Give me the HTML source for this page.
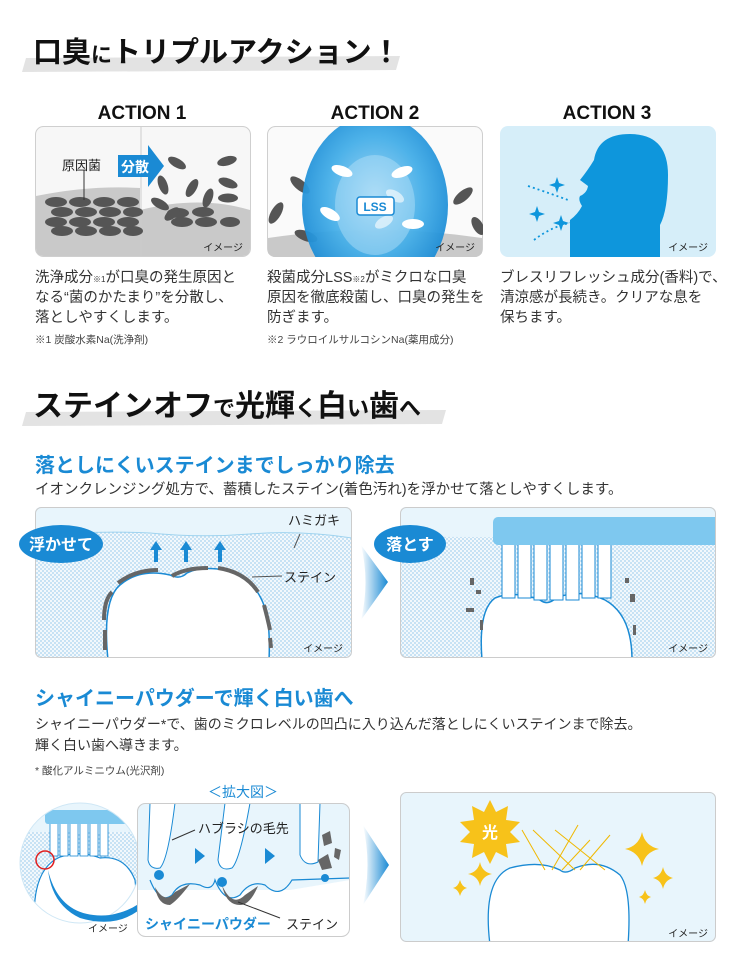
<!DOCTYPE html>
<html><head><meta charset="utf-8"><style>
html,body{margin:0;padding:0;background:#fff;}
svg{display:block;}
text{font-family:"Liberation Sans","Noto Sans CJK JP",sans-serif;}
</style></head><body>
<svg width="750" height="970" viewBox="0 0 750 970" xmlns="http://www.w3.org/2000/svg">
<defs>
<pattern id="dots" width="4" height="4" patternUnits="userSpaceOnUse">
<rect width="4" height="4" fill="#f2f8fc"/><circle cx="1" cy="1" r="0.9" fill="#a9d3ee"/><circle cx="3" cy="3" r="0.9" fill="#a9d3ee"/>
</pattern>
<linearGradient id="arr" x1="0" x2="1"><stop offset="0" stop-color="#fff"/><stop offset="1" stop-color="#1a8ad4"/></linearGradient>
<radialGradient id="sph" cx="0.5" cy="0.45" r="0.55"><stop offset="0" stop-color="#9fd6f5"/><stop offset="0.6" stop-color="#44aee8"/><stop offset="1" stop-color="#1a8ad4"/></radialGradient>
</defs>

<!-- Title 1 -->
<path d="M26 58 L400 56 L396 70 L22 72 Z" fill="#e3e3e3"/>
<text x="33" y="62" font-size="29" font-weight="bold" fill="#111">口臭<tspan font-size="21">に</tspan>トリプルアクション！</text>

<text x="142" y="119" font-size="19" font-weight="bold" text-anchor="middle" fill="#111">ACTION 1</text>
<text x="375" y="119" font-size="19" font-weight="bold" text-anchor="middle" fill="#111">ACTION 2</text>
<text x="607" y="119" font-size="19" font-weight="bold" text-anchor="middle" fill="#111">ACTION 3</text>

<!-- Panel 1 -->
<rect x="35.5" y="126.5" width="215" height="130" rx="8" fill="#f7f7f7" stroke="#cfcfcf"/>
<path d="M36 196 Q90 185 140 188 L140 256 L44 256 Q36 256 36 248 Z" fill="#c9c9c9"/>
<path d="M140 210 Q200 195 250 210 L250 248 Q250 256 242 256 L140 256 Z" fill="#c9c9c9"/>
<line x1="141" y1="127" x2="141" y2="256" stroke="#ccc"/>
<g fill="#555">
<ellipse cx="56" cy="202" rx="11" ry="5"/><ellipse cx="80" cy="202" rx="11" ry="5"/><ellipse cx="104" cy="202" rx="11" ry="5"/><ellipse cx="128" cy="202" rx="11" ry="5"/>
<ellipse cx="62" cy="212" rx="11" ry="5"/><ellipse cx="86" cy="212" rx="11" ry="5"/><ellipse cx="110" cy="212" rx="11" ry="5"/><ellipse cx="133" cy="212" rx="10" ry="5"/>
<ellipse cx="56" cy="222" rx="11" ry="5"/><ellipse cx="80" cy="222" rx="11" ry="5"/><ellipse cx="104" cy="222" rx="11" ry="5"/><ellipse cx="128" cy="222" rx="11" ry="5"/>
<ellipse cx="62" cy="231" rx="11" ry="5"/><ellipse cx="86" cy="231" rx="11" ry="5"/><ellipse cx="110" cy="231" rx="11" ry="5"/><ellipse cx="133" cy="231" rx="10" ry="5"/>
<ellipse cx="182" cy="222" rx="11" ry="5"/><ellipse cx="206" cy="222" rx="11" ry="5"/><ellipse cx="230" cy="222" rx="10" ry="5"/>
<ellipse cx="178" cy="213" rx="11" ry="5"/><ellipse cx="203" cy="212" rx="11" ry="5"/>
<ellipse cx="177" cy="163" rx="10" ry="4.5" transform="rotate(30 177 163)"/><ellipse cx="227" cy="161" rx="10" ry="4.5" transform="rotate(-15 227 161)"/>
<ellipse cx="163" cy="185" rx="10" ry="4.5" transform="rotate(70 163 185)"/><ellipse cx="192" cy="188" rx="10" ry="4.5" transform="rotate(-60 192 188)"/>
<ellipse cx="228" cy="183" rx="10" ry="4.5" transform="rotate(20 228 183)"/><ellipse cx="208" cy="198" rx="10" ry="4.5" transform="rotate(-70 208 198)"/>
<ellipse cx="160" cy="204" rx="10" ry="4.5" transform="rotate(30 160 204)"/><ellipse cx="228" cy="198" rx="10" ry="4.5"/>
<ellipse cx="172" cy="214" rx="9" ry="4.5" transform="rotate(-40 172 214)"/>
</g>
<line x1="84" y1="170" x2="84" y2="200" stroke="#333"/>
<text x="62" y="170" font-size="13" fill="#222">原因菌</text>
<path d="M118 155 L148 155 L148 145 L164 166 L148 187 L148 177 L118 177 Z" fill="#1a8ad4"/>
<text x="121" y="172" font-size="14" font-weight="bold" fill="#fff">分散</text>
<text x="243" y="251" font-size="10" text-anchor="end" fill="#222">イメージ</text>

<!-- Panel 2 -->
<clipPath id="cp2"><rect x="267" y="126" width="216" height="131" rx="8"/></clipPath>
<rect x="267.5" y="126.5" width="215" height="130" rx="8" fill="#fafafa" stroke="#cfcfcf"/>
<g clip-path="url(#cp2)">
<path d="M268 238 Q375 222 482 238 L482 257 L268 257 Z" fill="#c9c9c9"/>
<g fill="#555">
<ellipse cx="300" cy="185" rx="12" ry="5" transform="rotate(40 300 185)"/><ellipse cx="276" cy="213" rx="12" ry="5" transform="rotate(-60 276 213)"/>
<ellipse cx="306" cy="236" rx="12" ry="5" transform="rotate(20 306 236)"/><ellipse cx="463" cy="196" rx="12" ry="5" transform="rotate(-40 463 196)"/>
<ellipse cx="478" cy="226" rx="10" ry="5" transform="rotate(60 478 226)"/>
</g>
<ellipse cx="375" cy="205" rx="73" ry="90" fill="url(#sph)" opacity="0.95"/>
<ellipse cx="375" cy="205" rx="40" ry="50" fill="#b9e2f8" opacity="0.45"/>
<g fill="#fff">
<ellipse cx="342" cy="171" rx="11" ry="5" transform="rotate(20 342 171)"/><ellipse cx="402" cy="172" rx="11" ry="5" transform="rotate(-20 402 172)"/>
<ellipse cx="330" cy="214" rx="11" ry="5" transform="rotate(30 330 214)"/><ellipse cx="413" cy="224" rx="11" ry="5"/>
<ellipse cx="395" cy="196" rx="10" ry="5" opacity="0.6" transform="rotate(30 395 196)"/><ellipse cx="384" cy="222" rx="10" ry="5" opacity="0.6" transform="rotate(-30 384 222)"/>
</g>
</g>
<rect x="357" y="197" width="37" height="18" rx="3" fill="#fff" stroke="#1a8ad4" stroke-width="1.5"/>
<text x="375" y="211" font-size="12" font-weight="bold" text-anchor="middle" fill="#1a8ad4">LSS</text>
<text x="475" y="251" font-size="10" text-anchor="end" fill="#222">イメージ</text>

<!-- Panel 3 -->
<rect x="500" y="126" width="216" height="131" rx="8" fill="#d6eef9"/>
<path d="M570 257 L570 220 Q578 214 582 206 Q578 200 580 196 Q587 193 588 186 L580 180 Q588 170 594 160 Q598 134 630 134 Q668 134 668 175 Q668 210 660 225 L660 257 Z" fill="#0e96dc"/>
<path d="M528 186 Q552 194 568 200" stroke="#0e96dc" stroke-width="1.8" stroke-dasharray="2 3" fill="none"/>
<path d="M534 240 Q552 226 574 222" stroke="#0e96dc" stroke-width="1.8" stroke-dasharray="2 3" fill="none"/>
<g fill="#0e96dc">
<path d="M557 177 l2 6 6 2 -6 2 -2 6 -2 -6 -6 -2 6 -2z"/><path d="M537 206 l2 6 6 2 -6 2 -2 6 -2 -6 -6 -2 6 -2z"/><path d="M561 215 l2 6 6 2 -6 2 -2 6 -2 -6 -6 -2 6 -2z"/>
</g>
<text x="708" y="251" font-size="10" text-anchor="end" fill="#222">イメージ</text>

<!-- Body texts -->
<g font-size="14.5" fill="#333">
<text x="35" y="282">洗浄成分<tspan font-size="8">※1</tspan>が口臭の発生原因と</text>
<text x="35" y="302">なる“菌のかたまり”を分散し、</text>
<text x="35" y="322">落としやすくします。</text>
<text x="267" y="282">殺菌成分LSS<tspan font-size="8">※2</tspan>がミクロな口臭</text>
<text x="267" y="302">原因を徹底殺菌し、口臭の発生を</text>
<text x="267" y="322">防ぎます。</text>
<text x="500" y="282">ブレスリフレッシュ成分(香料)で、</text>
<text x="500" y="302">清涼感が長続き。クリアな息を</text>
<text x="500" y="322">保ちます。</text>
</g>
<text x="35" y="343" font-size="10.5" fill="#444">※1 炭酸水素Na(洗浄剤)</text>
<text x="267" y="343" font-size="10.5" fill="#444">※2 ラウロイルサルコシンNa(薬用成分)</text>

<!-- Title 2 -->
<path d="M26 412 L446 410 L442 424 L22 426 Z" fill="#e3e3e3"/>
<text x="33" y="416" font-size="30" font-weight="bold" fill="#111">ステインオフ<tspan font-size="22">で</tspan>光輝<tspan font-size="22">く</tspan>白<tspan font-size="22">い</tspan>歯<tspan font-size="22">へ</tspan></text>

<text x="35" y="472" font-size="20" font-weight="bold" fill="#1a8ad4">落としにくいステインまでしっかり除去</text>
<text x="35" y="494" font-size="14.5" fill="#333">イオンクレンジング処方で、蓄積したステイン(着色汚れ)を浮かせて落としやすくします。</text>

<!-- Stain panel left -->
<clipPath id="cl1"><rect x="35" y="507" width="317" height="151" rx="6"/></clipPath>
<g clip-path="url(#cl1)">
<rect x="35" y="507" width="317" height="151" fill="url(#dots)"/>
<path d="M35 507 H352 V538 Q300 530 250 534 Q200 538 150 533 Q90 530 35 537 Z" fill="#e8f5fc"/>
<path d="M35 537 Q90 530 150 533 Q200 538 250 534 Q300 530 352 538" stroke="#9fd3ef" fill="none"/>
<path d="M108 660 Q102 600 120 585 Q140 568 170 575 Q180 580 187 573 Q200 566 225 570 Q260 578 268 620 Q270 640 269 660 Z" fill="#fff" stroke="#1a8ad4" stroke-width="1.5"/>
<g stroke="#666" stroke-width="4" fill="none">
<path d="M105 650 L105 630"/><path d="M104 620 Q104 600 112 592"/><path d="M118 583 Q135 570 158 570"/><path d="M172 576 Q185 568 208 568"/><path d="M218 568 Q245 572 258 592"/><path d="M264 605 Q268 620 270 630"/><path d="M270 638 L271 648"/>
</g>
<g fill="#1a8ad4">
<path d="M156 541 l-6 9 h4 v12 h4 v-12 h4z"/><path d="M186 541 l-6 9 h4 v12 h4 v-12 h4z"/><path d="M220 541 l-6 9 h4 v12 h4 v-12 h4z"/>
</g>
<line x1="300" y1="534" x2="294" y2="548" stroke="#555"/>
<line x1="252" y1="577" x2="282" y2="576" stroke="#555"/>
</g>
<rect x="35.5" y="507.5" width="316" height="150" rx="6" fill="none" stroke="#ccc"/>
<text x="288" y="525" font-size="13" fill="#222">ハミガキ</text>
<text x="284" y="582" font-size="13" fill="#222">ステイン</text>
<text x="343" y="652" font-size="10" text-anchor="end" fill="#222">イメージ</text>
<ellipse cx="61" cy="544" rx="42" ry="19" fill="#1a8ad4"/>
<text x="61" y="550" font-size="16" font-weight="bold" text-anchor="middle" fill="#fff">浮かせて</text>

<path d="M361 545 L388 582 L361 620 Q370 582 361 545 Z" fill="url(#arr)"/>

<!-- Stain panel right -->
<clipPath id="cl2"><rect x="400" y="507" width="316" height="151" rx="6"/></clipPath>
<g clip-path="url(#cl2)">
<rect x="400" y="507" width="316" height="151" fill="url(#dots)"/>
<path d="M400 507 H716 V545 Q600 536 400 537 Z" fill="#e8f5fc"/>
<path d="M482 660 Q478 610 495 598 Q515 590 540 600 Q548 606 556 598 Q580 588 605 600 Q632 615 632 660 Z" fill="#fff" stroke="#1a8ad4" stroke-width="1.5"/>
<g fill="#fff" stroke="#1a8ad4" stroke-width="1">
<rect x="502" y="544" width="13" height="54"/><rect x="518" y="544" width="13" height="54"/><rect x="534" y="544" width="13" height="56"/><rect x="550" y="544" width="13" height="56"/><rect x="566" y="544" width="13" height="56"/><rect x="582" y="544" width="13" height="54"/><rect x="598" y="544" width="13" height="54"/>
</g>
<rect x="493" y="517" width="240" height="28" rx="5" fill="#7ec8ef"/>
<g fill="#666"><rect x="470" y="578" width="4" height="7"/><rect x="476" y="590" width="5" height="4"/><rect x="466" y="608" width="8" height="4"/><rect x="625" y="578" width="4" height="5"/><rect x="630" y="594" width="5" height="8"/><rect x="480" y="620" width="3" height="10"/><rect x="633" y="625" width="3" height="10"/></g>
</g>
<rect x="400.5" y="507.5" width="315" height="150" rx="6" fill="none" stroke="#ccc"/>
<text x="708" y="652" font-size="10" text-anchor="end" fill="#222">イメージ</text>
<ellipse cx="410" cy="544" rx="36" ry="19" fill="#1a8ad4"/>
<text x="410" y="550" font-size="16" font-weight="bold" text-anchor="middle" fill="#fff">落とす</text>

<!-- Section 3 -->
<text x="35" y="705" font-size="20" font-weight="bold" fill="#1a8ad4">シャイニーパウダーで輝く白い歯へ</text>
<text x="35" y="729" font-size="14" fill="#333">シャイニーパウダー*で、歯のミクロレベルの凹凸に入り込んだ落としにくいステインまで除去。</text>
<text x="35" y="750" font-size="14" fill="#333">輝く白い歯へ導きます。</text>
<text x="35" y="774" font-size="10.5" fill="#444">*  酸化アルミニウム(光沢剤)</text>
<text x="243" y="797" font-size="14" text-anchor="middle" fill="#1a8ad4">＜拡大図＞</text>

<!-- circle magnifier -->
<clipPath id="cc"><circle cx="80" cy="863" r="60"/></clipPath>
<g clip-path="url(#cc)">
<rect x="18" y="800" width="130" height="130" fill="#e8f5fc"/>
<rect x="18" y="832" width="130" height="100" fill="url(#dots)"/>
<path d="M35 930 Q30 870 60 857 Q80 850 100 858 Q125 855 135 880 L140 930 Z" fill="#fff" stroke="#1a8ad4" stroke-width="1.2"/>
<g fill="#fff" stroke="#1a8ad4" stroke-width="0.8"><rect x="50" y="822" width="8" height="34"/><rect x="60" y="822" width="8" height="34"/><rect x="70" y="822" width="8" height="34"/><rect x="80" y="822" width="8" height="34"/><rect x="90" y="822" width="8" height="34"/><rect x="100" y="822" width="8" height="34"/></g>
<rect x="45" y="810" width="95" height="14" rx="3" fill="#7ec8ef"/>
</g>
<circle cx="80" cy="863" r="60" fill="none" stroke="#cfe7f5"/>
<circle cx="45" cy="860" r="9" fill="none" stroke="#e02020" stroke-width="1.5"/>
<path d="M48 870 Q60 920 110 915 Q135 910 145 898 L140 890 L162 888 L150 910 L146 904 Q120 930 80 918 Q52 905 48 870 Z" fill="#1a8ad4"/>

<!-- zoom panel -->
<clipPath id="cz"><rect x="137" y="803" width="213" height="134" rx="8"/></clipPath>
<g clip-path="url(#cz)">
<rect x="137" y="803" width="213" height="134" fill="#e8f5fc"/>
<path d="M137 890 L290 890 L350 880 L350 937 L137 937 Z" fill="#fff"/>
<path d="M150 880 Q160 905 172 895 Q180 880 200 885 Q212 892 215 880 Q225 905 240 895 Q250 880 265 885 Q280 900 292 880 L350 878" stroke="#1a8ad4" stroke-width="1.2" fill="#e8f5fc"/>
<path d="M155 887 Q165 905 175 892 L190 884 Q178 900 170 905 Q158 905 155 887Z M222 885 Q232 908 245 895 L258 886 Q250 905 240 905 Q226 905 222 885Z" fill="#666"/>
<g fill="#fff" stroke="#1a8ad4" stroke-width="1"><path d="M150 803 L148 860 Q150 870 160 868 Q168 860 175 803 Z"/><path d="M225 803 L218 860 Q220 872 232 868 Q240 860 250 803 Z"/><path d="M300 803 L300 855 Q305 868 318 862 L320 803 Z"/></g>
<g fill="#666"><path d="M322 835 l8 -4 2 12 -8 3z"/><path d="M318 860 l10 -6 4 14 -10 2z"/><path d="M335 848 l6 2 -2 10 -5 -3z"/></g>
<circle cx="159" cy="875" r="5" fill="#1a8ad4"/><circle cx="222" cy="882" r="5" fill="#1a8ad4"/><circle cx="325" cy="878" r="4" fill="#1a8ad4"/>
<path d="M195 848 l10 8 -10 8z M265 848 l10 8 -10 8z" fill="#1a8ad4"/>
<line x1="172" y1="840" x2="195" y2="830" stroke="#333"/>
<line x1="238" y1="902" x2="280" y2="918" stroke="#333"/>
</g>
<rect x="137.5" y="803.5" width="212" height="133" rx="8" fill="none" stroke="#ccc"/>
<text x="198" y="833" font-size="13" fill="#222">ハブラシの毛先</text>
<text x="145" y="929" font-size="14" font-weight="bold" fill="#1a8ad4">シャイニーパウダー</text>
<text x="286" y="929" font-size="13" fill="#222">ステイン</text>
<text x="88" y="932" font-size="10" fill="#222">イメージ</text>

<path d="M363 825 L389 865 L363 905 Q372 865 363 825 Z" fill="url(#arr)"/>

<!-- result panel -->
<clipPath id="cr"><rect x="400" y="792" width="316" height="150" rx="6"/></clipPath>
<g clip-path="url(#cr)">
<rect x="400" y="792" width="316" height="150" fill="#e8f5fc"/>
<path d="M490 945 Q482 880 510 868 Q540 860 560 870 Q566 875 575 868 Q600 858 620 875 Q632 890 628 945 Z" fill="#fff" stroke="#1a8ad4" stroke-width="1.3"/>
<g stroke="#f0b800" stroke-width="1" fill="none">
<path d="M522 830 L545 870"/><path d="M533 830 L575 870"/><path d="M555 830 L605 870"/><path d="M562 870 L590 840"/><path d="M580 870 L610 835"/><path d="M552 870 L578 825"/>
</g>
<path d="M490 800 L496 812 L508 806 L506 820 L520 822 L510 832 L520 842 L506 844 L508 858 L496 852 L490 864 L484 852 L472 858 L474 844 L460 842 L470 832 L460 822 L474 820 L472 806 L484 812Z" fill="#f7c21a"/>
<text x="490" y="838" font-size="16" font-weight="bold" text-anchor="middle" fill="#fff">光</text>
<g fill="#f7c21a">
<path d="M642 832 q3 14 17 17 q-14 3 -17 17 q-3 -14 -17 -17 q14 -3 17 -17z"/>
<path d="M480 862 q2 10 12 12 q-10 2 -12 12 q-2 -10 -12 -12 q10 -2 12 -12z"/>
<path d="M663 867 q2 9 10 11 q-8 2 -10 11 q-2 -9 -10 -11 q8 -2 10 -11z"/>
<path d="M460 880 q2 7 7 8 q-5 1 -7 8 q-2 -7 -7 -8 q5 -1 7 -8z"/>
<path d="M645 890 q1.5 6 6 7 q-4.5 1 -6 7 q-1.5 -6 -6 -7 q4.5 -1 6 -7z"/>
</g>
</g>
<rect x="400.5" y="792.5" width="315" height="149" rx="6" fill="none" stroke="#ccc"/>
<text x="708" y="937" font-size="10" text-anchor="end" fill="#222">イメージ</text>
</svg>
</body></html>
